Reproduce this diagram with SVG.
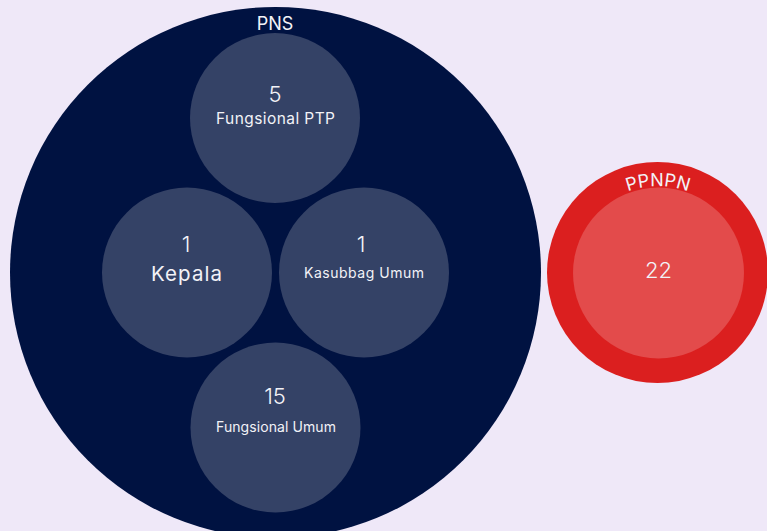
<svg xmlns="http://www.w3.org/2000/svg" width="767" height="531" viewBox="0 0 767 531">
  <style>
    text { font-family: Inter, "Open Sans", "Liberation Sans", sans-serif; fill: #F2F2F7; text-anchor: middle; }
    .num { font-weight: 300; font-size: 22px; }
    .lbl { font-weight: 400; }
    .inner { fill: #344266; }
  </style>
  <defs>
    <path id="ppnpnArc" d="M 571,273 A 87 87 0 0 1 745,273"/>
  </defs>
  <rect width="767" height="531" fill="#EFE8F8"/>
  <g id="pns">
    <circle cx="275.5" cy="272.5" r="265.5" fill="#001241"/>
    <text x="275" y="30" style="font-size:18px">PNS</text>
  </g>
  <g id="fungsional-ptp">
    <circle class="inner" cx="275" cy="118" r="85"/>
    <text class="num" x="275" y="102">5</text>
    <text class="lbl" x="275.5" y="124" style="font-size:15.5px" textLength="119" lengthAdjust="spacing">Fungsional PTP</text>
  </g>
  <g id="kepala">
    <circle class="inner" cx="187" cy="272.5" r="85"/>
    <text class="num" x="186" y="252">1</text>
    <text class="lbl" x="186.5" y="281" style="font-size:20.5px" textLength="71" lengthAdjust="spacing">Kepala</text>
  </g>
  <g id="kasubbag-umum">
    <circle class="inner" cx="364" cy="272.5" r="85"/>
    <text class="num" x="361" y="252">1</text>
    <text class="lbl" x="364" y="278" style="font-size:14px" textLength="120" lengthAdjust="spacing">Kasubbag Umum</text>
  </g>
  <g id="fungsional-umum">
    <circle class="inner" cx="275.5" cy="427.5" r="85"/>
    <text class="num" x="275" y="404">15</text>
    <text class="lbl" x="276" y="432" style="font-size:14px" textLength="120" lengthAdjust="spacing">Fungsional Umum</text>
  </g>
  <g id="ppnpn">
    <circle cx="657.5" cy="272.5" r="110.5" fill="#DB1F1F"/>
    <circle cx="658.5" cy="273" r="85.5" fill="#E34B4B"/>
    <text style="font-size:18px"><textPath href="#ppnpnArc" startOffset="50%">PPNPN</textPath></text>
    <text class="num" x="658.5" y="278">22</text>
  </g>
  <g id="connectors"/>
</svg>
